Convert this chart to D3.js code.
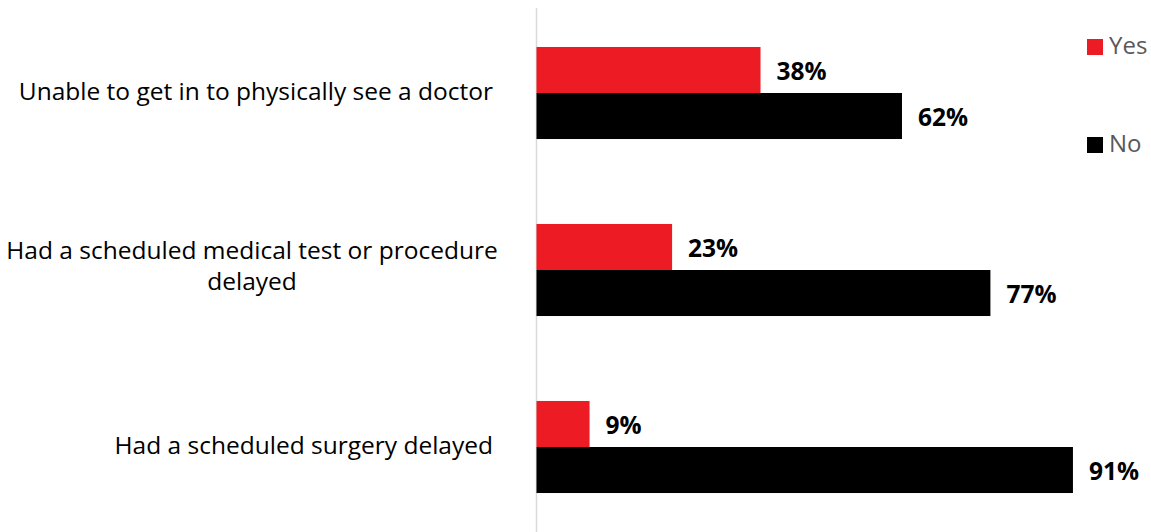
<!DOCTYPE html>
<html>
<head>
<meta charset="utf-8">
<script src="https://cdn.jsdelivr.net/npm/d3@7"></script>
<style>
  html, body { margin: 0; padding: 0; background: #fff; }
  svg { display: block; font-family: "Open Sans", Lato, sans-serif; }
</style>
</head>
<body>
<svg id="chart" width="1151" height="532"></svg>
<script>
const categories = [
  ["Unable to get in to physically see a doctor"],
  ["Had a scheduled medical test or procedure", "delayed"],
  ["Had a scheduled surgery delayed"]
];
const seriesNames = ["Yes", "No"];
const yesValues = [38, 23, 9];
const noValues = [62, 77, 91];
const colors = ["#ED1C24", "#000000"];

const svg = d3.select("#chart");
const W = 1151, H = 532;

const x = d3.scaleLinear().domain([0, 100]).range([536.5, 1126]);
const y0 = d3.scaleBand().domain(d3.range(categories.length)).range([4.5, 535.5])
  .paddingInner(0.48).paddingOuter(0.24);
const y1 = d3.scaleBand().domain(seriesNames).range([0, y0.bandwidth()]);

const data = categories.map((c, i) => ({
  i, label: c,
  vals: [{ s: "Yes", v: yesValues[i] }, { s: "No", v: noValues[i] }]
}));

// axis line
svg.append("line")
  .attr("x1", x(0)).attr("x2", x(0))
  .attr("y1", 8).attr("y2", H)
  .attr("stroke", "#d9d9d9").attr("stroke-width", 1.5);

const g = svg.selectAll("g.cat").data(data).join("g")
  .attr("class", "cat")
  .attr("transform", d => `translate(0,${y0(d.i)})`);

g.selectAll("rect").data(d => d.vals).join("rect")
  .attr("x", x(0))
  .attr("y", d => y1(d.s))
  .attr("width", d => x(d.v) - x(0))
  .attr("height", y1.bandwidth())
  .attr("fill", (d, k) => colors[k]);

g.selectAll("text.val").data(d => d.vals).join("text")
  .attr("class", "val")
  .attr("x", d => x(d.v) + 16)
  .attr("y", d => y1(d.s) + y1.bandwidth() / 2 + 3)
  .attr("dominant-baseline", "middle")
  .attr("font-size", 24.5)
  .attr("font-weight", "bold")
  .attr("fill", "#000")
  .text(d => d.v + "%");

// category labels
const labelRight = 493;
const wrapCenter = 252;
const lineH = 31;
data.forEach(d => {
  const cy = y0(d.i) + y0.bandwidth() / 2 + (d.label.length > 1 ? -2 : 0);
  const t = svg.append("text")
    .attr("font-size", 24.5)
    .attr("fill", "#000");
  const n = d.label.length;
  d.label.forEach((ln, k) => {
    t.append("tspan").text(ln)
      .attr("y", cy + (k - (n - 1) / 2) * lineH)
      .attr("dominant-baseline", "middle");
  });
  if (n === 1) {
    t.attr("text-anchor", "end").selectAll("tspan").attr("x", labelRight);
  } else {
    t.attr("text-anchor", "middle").selectAll("tspan").attr("x", wrapCenter);
  }
});

// legend
const legendY = [47, 145];
seriesNames.forEach((s, k) => {
  svg.append("rect")
    .attr("x", 1087).attr("y", legendY[k] - 8)
    .attr("width", 16).attr("height", 16)
    .attr("fill", colors[k]);
  svg.append("text")
    .attr("x", 1109).attr("y", legendY[k] + 1)
    .attr("dominant-baseline", "middle")
    .attr("font-size", 24)
    .attr("fill", "#595959")
    .text(s);
});
</script>
</body>
</html>
